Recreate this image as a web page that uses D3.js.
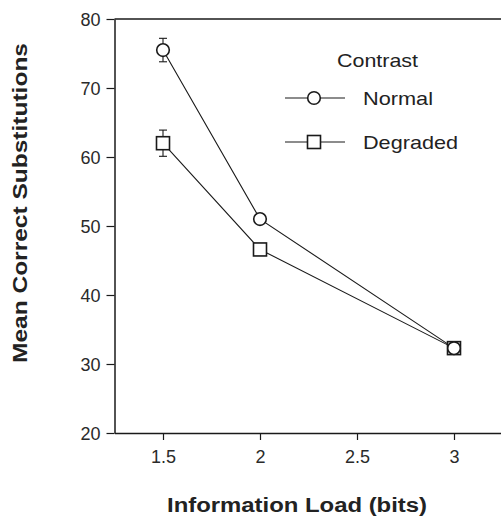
<!DOCTYPE html>
<html><head><meta charset="utf-8">
<script src="https://cdn.jsdelivr.net/npm/d3@7"></script>
<style>body{margin:0;background:#fff}svg{display:block}</style>
</head><body>
<script>
const loads = [1.5, 2, 3];
const normalMeans = [75.5, 51.0, 32.3];
const normalErr = [1.7, 0.6, 0.6];
const degradedMeans = [62.0, 46.6, 32.3];
const degradedErr = [1.9, 0.6, 0.6];
const xTicks = [1.5, 2, 2.5, 3];
const yTicks = [20, 30, 40, 50, 60, 70, 80];
const seriesNames = ["Normal", "Degraded"];
const legendTitle = "Contrast";
const xTitle = "Information Load (bits)";
const yTitle = "Mean Correct Substitutions";

const W = 501, H = 521;
const svg = d3.select("body").append("svg").attr("width", W).attr("height", H);
const x = d3.scaleLinear().domain([1.25, 3.25]).range([114.5, 502.5]);
const y = d3.scaleLinear().domain([20, 80]).range([433, 19]);
const ink = "#1a1a1a";
const font = "'Liberation Sans', Arial, sans-serif";

// top border
svg.append("line").attr("x1", x(1.25)).attr("x2", W).attr("y1", y(80)).attr("y2", y(80))
  .attr("stroke", ink).attr("stroke-width", 1.5);

const gx = svg.append("g").attr("transform", `translate(0,${y(20)})`)
  .call(d3.axisBottom(x).tickValues(xTicks).tickFormat(d3.format("")).tickSizeOuter(0).tickSizeInner(7));
const gy = svg.append("g").attr("transform", `translate(${x(1.25)},0)`)
  .call(d3.axisLeft(y).tickValues(yTicks).tickSizeOuter(0).tickSizeInner(8));
[gx, gy].forEach(g => {
  g.select(".domain").attr("stroke", ink).attr("stroke-width", 1.5);
  g.selectAll(".tick line").attr("stroke", ink).attr("stroke-width", 1.2);
  g.selectAll("text").attr("fill", "#2a2a2a").attr("font-family", font).attr("font-size", 18);
});
gx.selectAll("text").attr("dy", null).attr("y", 0).attr("transform", "translate(0,30)");
gy.selectAll("text").attr("x", -14).attr("dy", "0.36em");

const series = [
  {name: seriesNames[0], means: normalMeans, err: normalErr, shape: "circle"},
  {name: seriesNames[1], means: degradedMeans, err: degradedErr, shape: "square"}
];
const line = d3.line().x(d => x(d[0])).y(d => y(d[1]));
const cap = 4;

function marker(g, shape, cx, cy) {
  if (shape === "circle") {
    g.append("circle").attr("cx", cx).attr("cy", cy).attr("r", 6.3)
      .attr("fill", "#fff").attr("stroke", ink).attr("stroke-width", 1.6);
  } else {
    g.append("rect").attr("x", cx - 6.5).attr("y", cy - 6.5).attr("width", 13).attr("height", 13)
      .attr("fill", "#fff").attr("stroke", ink).attr("stroke-width", 1.6);
  }
}

// lines and error bars first, then markers (Normal markers on top)
series.forEach(s => {
  const pts = loads.map((l, i) => [l, s.means[i]]);
  svg.append("path").attr("d", line(pts)).attr("fill", "none").attr("stroke", ink).attr("stroke-width", 1.1);
  const g = svg.append("g");
  pts.forEach((p, i) => {
    const cx = x(p[0]);
    const hi = y(p[1] + s.err[i]), lo = y(p[1] - s.err[i]);
    g.append("line").attr("x1", cx).attr("x2", cx).attr("y1", hi).attr("y2", lo).attr("stroke", ink).attr("stroke-width", 1.1);
    [hi, lo].forEach(yy => g.append("line").attr("x1", cx - cap).attr("x2", cx + cap).attr("y1", yy).attr("y2", yy).attr("stroke", ink).attr("stroke-width", 1.1));
  });
});
series.slice().reverse().forEach(s => {
  const g = svg.append("g");
  loads.forEach((l, i) => marker(g, s.shape, x(l), y(s.means[i])));
});

// legend
const lg = svg.append("g");
lg.append("text").attr("x", 337).attr("y", 67).text(legendTitle)
  .attr("font-family", font).attr("font-size", 19).attr("fill", "#222")
  .attr("textLength", 81).attr("lengthAdjust", "spacingAndGlyphs");
const legendY = [98, 142];
const legendLen = [70, 95];
series.forEach((s, i) => {
  const ly = legendY[i];
  lg.append("line").attr("x1", 285).attr("x2", 345).attr("y1", ly).attr("y2", ly).attr("stroke", ink).attr("stroke-width", 1.1);
  marker(lg, s.shape, 314, ly);
  lg.append("text").attr("x", 363).attr("y", ly + 7).text(s.name)
    .attr("font-family", font).attr("font-size", 19).attr("fill", "#222")
    .attr("textLength", legendLen[i]).attr("lengthAdjust", "spacingAndGlyphs");
});

// axis titles
svg.append("text").attr("x", 297).attr("y", 512).attr("text-anchor", "middle").text(xTitle)
  .attr("font-family", font).attr("font-weight", "bold").attr("font-size", 20).attr("fill", "#222")
  .attr("textLength", 260).attr("lengthAdjust", "spacingAndGlyphs");
svg.append("text").attr("transform", "translate(27,203) rotate(-90)").attr("text-anchor", "middle").text(yTitle)
  .attr("font-family", font).attr("font-weight", "bold").attr("font-size", 20).attr("fill", "#222")
  .attr("textLength", 320).attr("lengthAdjust", "spacingAndGlyphs");
</script>
</body></html>
